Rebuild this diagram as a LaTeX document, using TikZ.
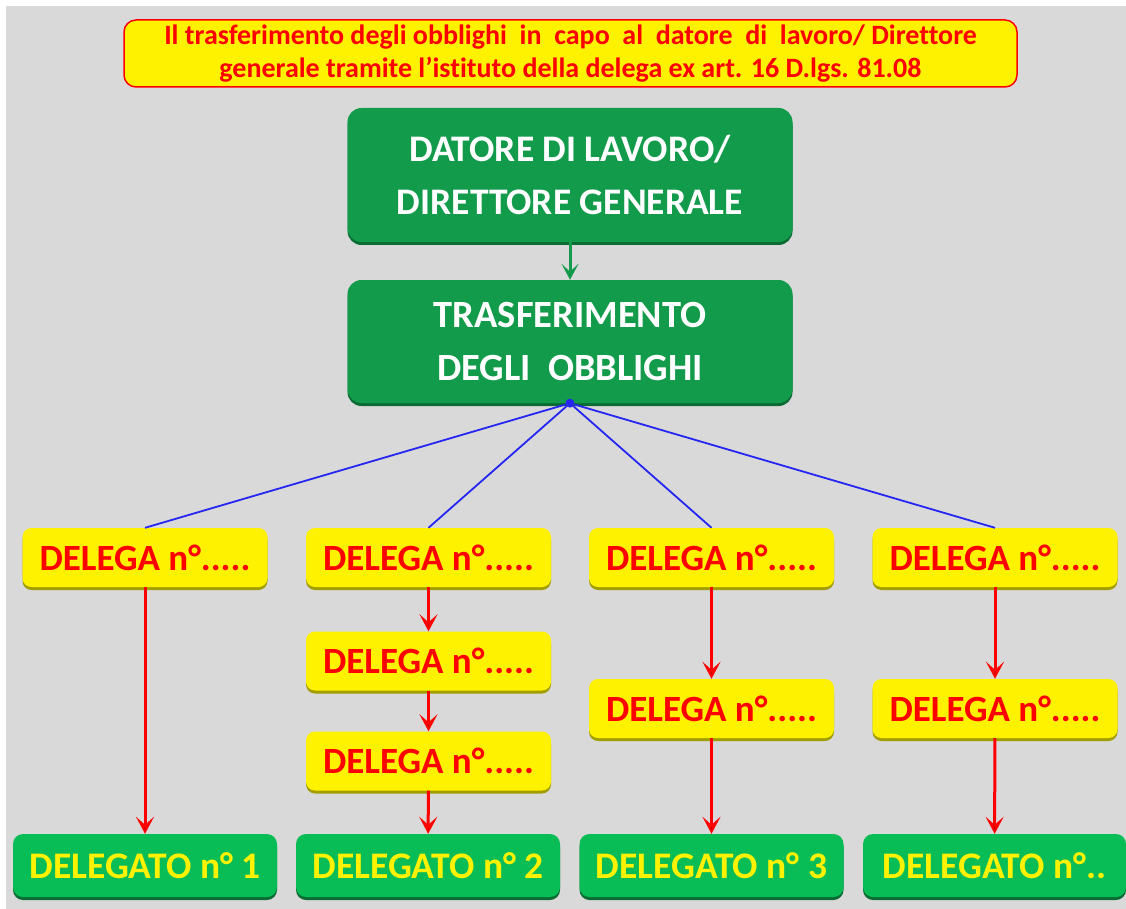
\documentclass[tikz,border=0pt]{standalone}
\usepackage{fontspec}
\setmainfont{Carlito}[Ligatures={TeX,NoCommon}]
\usetikzlibrary{arrows.meta,shadows}
\definecolor{sfondo}{HTML}{D9D9D9}
\definecolor{verdescuro}{HTML}{129B4A}
\definecolor{verdechiaro}{HTML}{08BD56}
\definecolor{ombraverde}{HTML}{0A6B33}
\definecolor{ombragialla}{HTML}{A39E00}
\definecolor{blu}{HTML}{2626F2}
\begin{document}
\begin{tikzpicture}[x=1pt,y=-1pt,
  title node/.style={draw=red,line width=1.5pt,fill=yellow,rounded corners=12pt,minimum width=893pt,minimum height=67pt,inner sep=0pt,text=red,align=center,font=\bfseries\fontsize{28}{33}\selectfont},
  capo node/.style={fill=verdescuro,rounded corners=14pt,minimum width=445pt,inner sep=0pt,text=white,align=center,drop shadow={shadow xshift=0pt,shadow yshift=-3pt,fill=ombraverde,opacity=1},font=\bfseries\fontsize{37.5}{53}\selectfont},
  delega node/.style={fill=yellow,rounded corners=9pt,minimum width=245pt,minimum height=59pt,inner sep=0pt,text=red,drop shadow={shadow xshift=0pt,shadow yshift=-3pt,fill=ombragialla,opacity=1},font=\bfseries\fontsize{37}{40}\selectfont},
  delegato node/.style={fill=verdechiaro,rounded corners=10pt,minimum width=264pt,minimum height=63pt,inner sep=0pt,text=yellow,drop shadow={shadow xshift=0pt,shadow yshift=-3pt,fill=ombraverde,opacity=1},font=\bfseries\fontsize{37.5}{40}\selectfont},
  hub/.style={circle,fill=blu,inner sep=0pt,minimum size=9pt},
  blu line/.style={draw=blu,line width=1.8pt},
  rossa arrow/.style={draw=red,line width=3pt,-{Stealth[length=17pt,width=18pt,inset=8pt]}},
  verde arrow/.style={draw=verdescuro,line width=3pt,-{Stealth[length=16pt,width=17pt,inset=8pt]}}]
  % sfondo
  \useasboundingbox (0,0) rectangle (1126,909);
  \fill[sfondo] (6,6) rectangle (1126,909);

  \node[title node] (titolo) at (570.5,53.5) {Il trasferimento degli obblighi~ in~ capo~ al~ datore~ di~ lavoro/ Direttore\\generale tramite l'istituto della delega ex art. 16 D.lgs. 81.08};

  \node[capo node,minimum height=134pt] (datore) at (570,175) {DATORE DI LAVORO/\\DIRETTORE GENERALE};
  \node[capo node,minimum height=123pt,font=\bfseries\fontsize{38.5}{53}\selectfont] (trasf) at (570,341.5) {TRASFERIMENTO\\DEGLI~ OBBLIGHI};
  \node[hub] (snodo) at (trasf.south) {};

  % deleghe
  \node[delega node] (d1) at (145,557.5) {DELEGA n°.....};
  \node[delega node] (d2a) at (428.5,557.5) {DELEGA n°.....};
  \node[delega node] (d2b) at (428.5,661) {DELEGA n°.....};
  \node[delega node] (d2c) at (428.5,761) {DELEGA n°.....};
  \node[delega node] (d3a) at (711.5,557.5) {DELEGA n°.....};
  \node[delega node] (d3b) at (711.5,708.5) {DELEGA n°.....};
  \node[delega node] (d4a) at (995,557.5) {DELEGA n°.....};
  \node[delega node] (d4b) at (995,708.5) {DELEGA n°.....};

  % delegati
  \node[delegato node] (g1) at (145,865.5) {DELEGATO n° 1};
  \node[delegato node] (g2) at (428,865.5) {DELEGATO n° 2};
  \node[delegato node] (g3) at (711.5,865.5) {DELEGATO n° 3};
  \node[delegato node,minimum width=263pt] (g4) at (994.5,865.5) {DELEGATO n°..};

  \path[verde arrow] (datore) edge (trasf);
  \path[blu line] (snodo) edge (d1.north) edge (d2a.north) edge (d3a.north) edge (d4a.north);
  \path[rossa arrow] (d1) edge (g1)
    (d2a) edge (d2b) (d2b) edge (d2c) (d2c) edge (g2)
    (d3a) edge (d3b) (d3b) edge (g3)
    (d4a) edge (d4b) (d4b) edge (g4);
\end{tikzpicture}
\end{document}
